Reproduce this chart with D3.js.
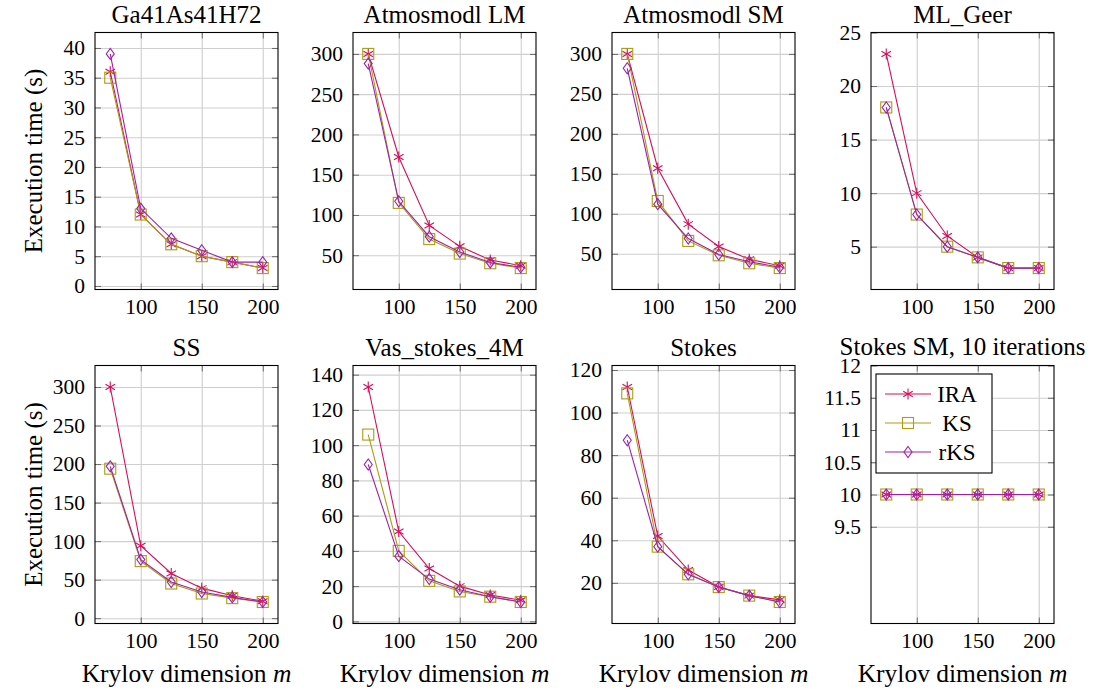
<!DOCTYPE html>
<html>
<head>
<meta charset="utf-8">
<script src="https://cdn.jsdelivr.net/npm/d3@7"></script>
<style>
  html, body { margin: 0; padding: 0; background: #fff; }
  svg { display: block; }
  svg text { font-family: "Liberation Serif", "DejaVu Serif", serif; }
</style>
</head>
<body>
<svg id="chart" width="1099" height="690"></svg>
<script>
// ---------------- data ----------------
const krylovDims = [75, 100, 125, 150, 175, 200];
const xTickValues = [100, 150, 200];
const panelTitles = ["Ga41As41H72", "Atmosmodl LM", "Atmosmodl SM", "ML_Geer",
                     "SS", "Vas_stokes_4M", "Stokes", "Stokes SM, 10 iterations"];
const seriesNames = ["IRA", "KS", "rKS"];

const iraTimes = [
  [36, 12, 7, 5, 4, 3],
  [300, 172, 87, 61, 44, 37],
  [300, 157, 87, 59, 43, 35],
  [23, 10, 6, 4, 3, 3],
  [300, 94, 58, 39, 29, 22],
  [133, 51, 30, 20, 15, 12],
  [112, 42, 26, 18, 14, 12],
  [10, 10, 10, 10, 10, 10]
];
const ksTimes = [
  [35, 12, 7, 5, 4, 3],
  [300, 115, 70, 52, 40, 34],
  [300, 116, 66, 48, 38, 32],
  [18, 8, 5, 4, 3, 3],
  [194, 74, 45, 32, 26, 21],
  [106, 40, 23, 17, 14, 11],
  [109, 37, 24, 18, 14, 11],
  [10, 10, 10, 10, 10, 10]
];
const rksTimes = [
  [39, 13, 8, 6, 4, 4],
  [288, 117, 73, 54, 41, 35],
  [282, 112, 69, 49, 40, 33],
  [18, 8, 5, 4, 3, 3],
  [197, 76, 47, 34, 27, 21],
  [89, 37, 24, 18, 14, 11],
  [87, 37, 24, 18, 14, 11],
  [10, 10, 10, 10, 10, 10]
];
const yTickValues = [
  [0, 5, 10, 15, 20, 25, 30, 35, 40],
  [50, 100, 150, 200, 250, 300],
  [50, 100, 150, 200, 250, 300],
  [5, 10, 15, 20, 25],
  [0, 50, 100, 150, 200, 250, 300],
  [0, 20, 40, 60, 80, 100, 120, 140],
  [20, 40, 60, 80, 100, 120],
  [9.5, 10, 10.5, 11, 11.5, 12]
];
const fixedYDomains = [null, null, null, null, null, null, null, [8, 12]];

// ---------------- styles ----------------
const serif = '"Liberation Serif", "DejaVu Serif", serif';
const colors = { IRA: "#d20f5c", KS: "#a99d12", rKS: "#9c22a8" };
const colLeft = [95, 353, 612, 871];
const rowTop = [32.5, 365.5];
const rowH = [257, 258];
const pw = 183;

const svg = d3.select("#chart");

function drawMarker(g, name, cx, cy) {
  const c = colors[name];
  if (name === "IRA") {
    const r = 5.5;
    [90, 30, 150].forEach(a => {
      const rad = a * Math.PI / 180;
      g.append("line")
        .attr("x1", cx - r * Math.cos(rad)).attr("y1", cy - r * Math.sin(rad))
        .attr("x2", cx + r * Math.cos(rad)).attr("y2", cy + r * Math.sin(rad))
        .attr("stroke", c).attr("stroke-width", 1.1);
    });
  } else if (name === "KS") {
    const s = 5.5;
    g.append("rect").attr("x", cx - s).attr("y", cy - s)
      .attr("width", 2 * s).attr("height", 2 * s)
      .attr("fill", "none").attr("stroke", c).attr("stroke-width", 1.1);
  } else {
    const hw = 4, hh = 5.5;
    g.append("path")
      .attr("d", `M${cx},${cy - hh}L${cx + hw},${cy}L${cx},${cy + hh}L${cx - hw},${cy}Z`)
      .attr("fill", "none").attr("stroke", c).attr("stroke-width", 1.1);
  }
}

const fmt = d => String(d);

for (let i = 0; i < 8; i++) {
  const col = i % 4, row = Math.floor(i / 4);
  const left = colLeft[col], top = rowTop[row], ph = rowH[row];
  const g = svg.append("g").attr("transform", `translate(${left},${top})`);

  const seriesData = [iraTimes[i], ksTimes[i], rksTimes[i]];
  let yDom = fixedYDomains[i];
  if (!yDom) {
    const all = seriesData.flat();
    const mn = d3.min(all), mx = d3.max(all), r = mx - mn;
    yDom = [mn - 0.1 * r, mx + 0.1 * r];
  }
  const x = d3.scaleLinear().domain([62.5, 212.5]).range([0, pw]);
  const y = d3.scaleLinear().domain(yDom).range([ph, 0]);

  // grid
  g.append("g")
    .attr("transform", `translate(0,${ph})`)
    .call(d3.axisBottom(x).tickValues(xTickValues).tickSize(-ph).tickFormat(""))
    .call(s => s.select(".domain").remove())
    .call(s => s.selectAll("line").attr("stroke", "#cfcfcf").attr("stroke-width", 1.1));
  g.append("g")
    .call(d3.axisLeft(y).tickValues(yTickValues[i]).tickSize(-pw).tickFormat(""))
    .call(s => s.select(".domain").remove())
    .call(s => s.selectAll("line").attr("stroke", "#cfcfcf").attr("stroke-width", 1.1));

  // tick marks (inside, on all sides)
  const tickStyle = s => { s.select(".domain").remove(); s.selectAll("line").attr("stroke", "#6a6a6a").attr("stroke-width", 1); };
  g.append("g").attr("transform", `translate(0,${ph})`)
    .call(d3.axisBottom(x).tickValues(xTickValues).tickSize(-6).tickFormat("")).call(tickStyle);
  g.append("g")
    .call(d3.axisTop(x).tickValues(xTickValues).tickSize(-6).tickFormat("")).call(tickStyle);
  g.append("g")
    .call(d3.axisLeft(y).tickValues(yTickValues[i]).tickSize(-6).tickFormat("")).call(tickStyle);
  g.append("g").attr("transform", `translate(${pw},0)`)
    .call(d3.axisRight(y).tickValues(yTickValues[i]).tickSize(-6).tickFormat("")).call(tickStyle);

  // tick labels
  g.append("g").attr("transform", `translate(0,${ph})`)
    .call(d3.axisBottom(x).tickValues(xTickValues).tickSize(0).tickPadding(9.5).tickFormat(fmt))
    .call(s => s.select(".domain").remove())
    .call(s => s.selectAll("text").attr("font-size", "21.5px").attr("fill", "#000")
      .attr("font-family", serif));
  g.append("g")
    .call(d3.axisLeft(y).tickValues(yTickValues[i]).tickSize(0).tickPadding(10).tickFormat(fmt))
    .call(s => s.select(".domain").remove())
    .call(s => s.selectAll("text").attr("font-size", "21.5px").attr("fill", "#000")
      .attr("font-family", serif));

  // series
  const line = d3.line().x((d, k) => x(krylovDims[k])).y(d => y(d));
  seriesNames.forEach((name, si) => {
    const vals = seriesData[si];
    const sg = g.append("g");
    sg.append("path").datum(vals).attr("d", line)
      .attr("fill", "none").attr("stroke", colors[name]).attr("stroke-width", 1.1);
    vals.forEach((v, k) => drawMarker(sg, name, x(krylovDims[k]), y(v)));
  });

  // box
  g.append("rect").attr("x", 0).attr("y", 0).attr("width", pw).attr("height", ph)
    .attr("fill", "none").attr("stroke", "#000").attr("stroke-width", 1.1);

  // title
  g.append("text").attr("x", pw / 2).attr("y", i === 7 ? -11 : -9.5).attr("text-anchor", "middle")
    .attr("font-family", serif).attr("font-size", "25px").text(panelTitles[i]);

  // axis labels
  if (col === 0) {
    g.append("text")
      .attr("transform", `translate(${42 - left},${ph / 2}) rotate(-90)`)
      .attr("text-anchor", "middle").attr("font-family", serif).attr("font-size", "25px")
      .text("Execution time (s)");
  }
  if (row === 1) {
    const t = g.append("text").attr("x", pw / 2).attr("y", ph + 58)
      .attr("text-anchor", "middle").attr("font-family", serif).attr("font-size", "25.5px");
    t.append("tspan").text("Krylov dimension ");
    t.append("tspan").attr("font-style", "italic").text("m");
  }

  // legend in last panel
  if (i === 7) {
    const lg = g.append("g").attr("transform", "translate(5,8.5)");
    lg.append("rect").attr("x", 0).attr("y", 0).attr("width", 116).attr("height", 99)
      .attr("fill", "#fff").attr("stroke", "#000").attr("stroke-width", 1.1);
    seriesNames.forEach((name, si) => {
      const cy = 20 + si * 29;
      lg.append("line").attr("x1", 9).attr("x2", 55).attr("y1", cy).attr("y2", cy)
        .attr("stroke", colors[name]).attr("stroke-width", 1.1);
      drawMarker(lg, name, 32, cy);
      lg.append("text").attr("x", 81).attr("y", cy).attr("dy", "0.35em")
        .attr("text-anchor", "middle").attr("font-family", serif).attr("font-size", "23px").text(name);
    });
  }
}
</script>
</body>
</html>
